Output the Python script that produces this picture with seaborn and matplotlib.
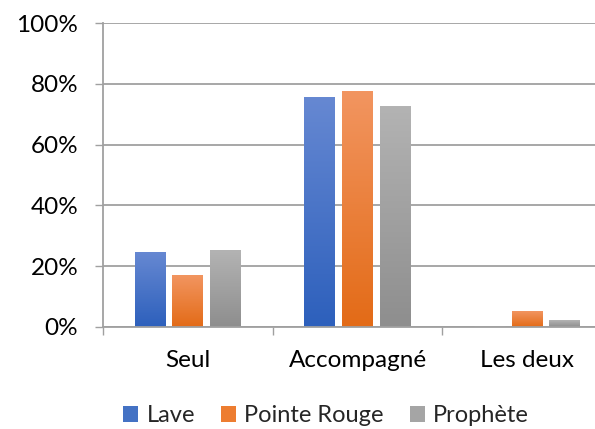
import matplotlib
matplotlib.use("Agg")
import matplotlib.pyplot as plt
import numpy as np
import pandas as pd
import seaborn as sns
from matplotlib.colors import LinearSegmentedColormap
from matplotlib.patches import Patch
from matplotlib.ticker import FixedLocator, FuncFormatter

# data (percent)
categories = ["Seul", "Accompagné", "Les deux"]
series = ["Lave", "Pointe Rouge", "Prophète"]
lave = [24.6, 75.7, 0.0]
pointe_rouge = [17.0, 77.7, 5.2]
prophete = [25.3, 72.7, 2.2]
y_ticks = [0, 20, 40, 60, 80, 100]

# excel-like gradient colours, (top, bottom)
grad = {
    "Lave": ("#6688d2", "#2d60bc"),
    "Pointe Rouge": ("#f29560", "#e36b17"),
    "Prophète": ("#b3b3b3", "#8e8e8e"),
}
mid = {"Lave": "#4472c4", "Pointe Rouge": "#ed7d31", "Prophète": "#a5a5a5"}

df = pd.DataFrame({
    "cat": categories * 3,
    "val": lave + pointe_rouge + prophete,
    "serie": [s for s in series for _ in categories],
})

sns.set_theme(style="white")
plt.rcParams["font.family"] = ["Lato", "DejaVu Sans"]
FS = 17.5
grid_col = "#a0a0a0"

fig = plt.figure(figsize=(5.95, 4.29), dpi=100)
ax = fig.add_axes([103 / 595, 1 - 326.7 / 429, 509 / 595, 303.4 / 429])

sns.barplot(data=df, x="cat", y="val", hue="serie", palette=mid,
            width=0.666, gap=0.18, legend=False, ax=ax, saturation=1)

# gradient fill clipped to every bar (light top, dark bottom)
for cont, s in zip(ax.containers, series):
    cmap = LinearSegmentedColormap.from_list(s, [grad[s][1], grad[s][0]])
    for bar in cont:
        h = bar.get_height()
        if h <= 0:
            continue
        x0 = bar.get_x()
        w = bar.get_width()
        img = ax.imshow(np.linspace(0, 1, 100).reshape(-1, 1), cmap=cmap,
                        extent=[x0, x0 + w, 0, h], origin="lower",
                        aspect="auto", zorder=bar.get_zorder() + 0.1)
        img.set_clip_path(bar)
        bar.set_edgecolor("none")

ax.set_xlim(-0.5, 2.5)
ax.set_ylim(0, 100)
ax.yaxis.set_major_locator(FixedLocator(y_ticks))
ax.yaxis.set_major_formatter(FuncFormatter(lambda v, p: f"{v:.0f}%"))
ax.grid(axis="y", color=grid_col, lw=1.3)
ax.set_axisbelow(True)
ax.set_xlabel("")
ax.set_ylabel("")

for sp in ["top", "right"]:
    ax.spines[sp].set_visible(False)
for sp in ["left", "bottom"]:
    ax.spines[sp].set_color(grid_col)
    ax.spines[sp].set_linewidth(1.3)

ax.tick_params(axis="y", which="major", direction="out", length=5.8,
               width=1.0, color=grid_col, pad=12, labelsize=FS,
               labelcolor="black", left=True)
ax.set_xticks([0, 1, 2])
ax.set_xticklabels(categories)
ax.set_xticks([-0.5, 0.5, 1.5], minor=True)
ax.tick_params(axis="x", which="major", length=0, pad=16.5, labelsize=FS,
               labelcolor="black")
ax.tick_params(axis="x", which="minor", direction="out", length=5.8,
               width=1.0, color=grid_col, bottom=True)

handles = [Patch(facecolor=mid[s], edgecolor="none", label=s) for s in series]
fig.legend(handles=handles, loc="center", bbox_to_anchor=(326 / 595, 1 - 416 / 429),
           ncol=3, frameon=False, fontsize=17, handlelength=0.64,
           handleheight=0.64, handletextpad=0.35, columnspacing=1.1,
           borderpad=0, borderaxespad=0)

fig.savefig("out.png", dpi=100)
